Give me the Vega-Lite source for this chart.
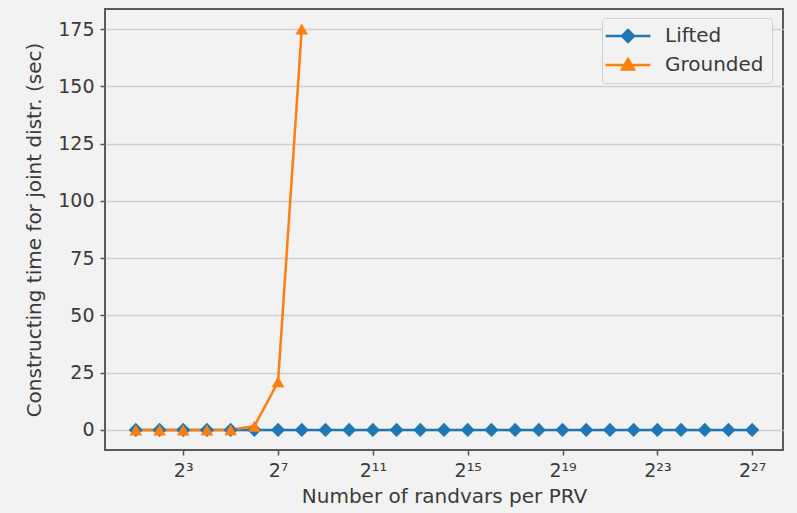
{
  "$schema": "https://vega.github.io/schema/vega-lite/v6.json",
  "width": 678,
  "height": 441,
  "autosize": {"type": "none"},
  "padding": {"left": 105, "top": 9, "right": 14, "bottom": 63},
  "background": "#f2f2f2",
  "config": {
    "view": {"stroke": "#5a5a5a", "strokeWidth": 2, "fill": "#f2f2f2"},
    "font": "DejaVu Sans",
    "axis": {
      "labelFont": "DejaVu Sans",
      "titleFont": "DejaVu Sans",
      "labelColor": "#3a3a3a",
      "titleColor": "#3a3a3a",
      "labelFontSize": 19,
      "titleFontSize": 20,
      "titleFontWeight": "normal",
      "domain": false,
      "tickColor": "#555555",
      "tickSize": 5,
      "tickWidth": 1.5,
      "gridColor": "#cfcfcf",
      "gridWidth": 1.5,
      "gridOpacity": 1
    },
    "legend": {"labelFont": "DejaVu Sans", "labelFontSize": 20, "labelColor": "#3a3a3a"}
  },
  "data": {
    "values": [
      {"n": 2, "time": 0.01, "series": "Lifted"},
      {"n": 4, "time": 0.01, "series": "Lifted"},
      {"n": 8, "time": 0.01, "series": "Lifted"},
      {"n": 16, "time": 0.01, "series": "Lifted"},
      {"n": 32, "time": 0.01, "series": "Lifted"},
      {"n": 64, "time": 0.01, "series": "Lifted"},
      {"n": 128, "time": 0.01, "series": "Lifted"},
      {"n": 256, "time": 0.01, "series": "Lifted"},
      {"n": 512, "time": 0.01, "series": "Lifted"},
      {"n": 1024, "time": 0.01, "series": "Lifted"},
      {"n": 2048, "time": 0.01, "series": "Lifted"},
      {"n": 4096, "time": 0.01, "series": "Lifted"},
      {"n": 8192, "time": 0.01, "series": "Lifted"},
      {"n": 16384, "time": 0.01, "series": "Lifted"},
      {"n": 32768, "time": 0.01, "series": "Lifted"},
      {"n": 65536, "time": 0.01, "series": "Lifted"},
      {"n": 131072, "time": 0.01, "series": "Lifted"},
      {"n": 262144, "time": 0.01, "series": "Lifted"},
      {"n": 524288, "time": 0.01, "series": "Lifted"},
      {"n": 1048576, "time": 0.01, "series": "Lifted"},
      {"n": 2097152, "time": 0.01, "series": "Lifted"},
      {"n": 4194304, "time": 0.01, "series": "Lifted"},
      {"n": 8388608, "time": 0.01, "series": "Lifted"},
      {"n": 16777216, "time": 0.01, "series": "Lifted"},
      {"n": 33554432, "time": 0.01, "series": "Lifted"},
      {"n": 67108864, "time": 0.01, "series": "Lifted"},
      {"n": 134217728, "time": 0.01, "series": "Lifted"},
      {"n": 2, "time": 0.0, "series": "Grounded"},
      {"n": 4, "time": 0.0, "series": "Grounded"},
      {"n": 8, "time": 0.0, "series": "Grounded"},
      {"n": 16, "time": 0.0, "series": "Grounded"},
      {"n": 32, "time": 0.05, "series": "Grounded"},
      {"n": 64, "time": 1.6, "series": "Grounded"},
      {"n": 128, "time": 21, "series": "Grounded"},
      {"n": 256, "time": 175, "series": "Grounded"}
    ]
  },
  "encoding": {
    "x": {
      "field": "n",
      "type": "quantitative",
      "scale": {"type": "log", "base": 2, "domain": [0.8123, 330474000], "nice": false},
      "axis": {
        "title": "Number of randvars per PRV",
        "values": [8, 128, 2048, 32768, 524288, 8388608, 134217728],
        "grid": false,
        "labelPadding": 6,
        "titlePadding": 6,
        "labelExpr": "datum.value < 16 ? '2³' : datum.value < 256 ? '2⁷' : datum.value < 4096 ? '2¹¹' : datum.value < 65536 ? '2¹⁵' : datum.value < 1048576 ? '2¹⁹' : datum.value < 16777216 ? '2²³' : '2²⁷'"
      }
    },
    "y": {
      "field": "time",
      "type": "quantitative",
      "scale": {"domain": [-8.75, 183.75], "nice": false, "zero": false},
      "axis": {
        "title": "Constructing time for joint distr. (sec)",
        "values": [0, 25, 50, 75, 100, 125, 150, 175],
        "labelPadding": 6,
        "titlePadding": 13
      }
    },
    "color": {
      "field": "series",
      "type": "nominal",
      "scale": {"domain": ["Lifted", "Grounded"], "range": ["#1f77b4", "#ff7f0e"]},
      "legend": {
        "title": null,
        "orient": "none",
        "legendX": 497,
        "legendY": 9,
        "padding": 8,
        "fillColor": "#f2f2f2",
        "strokeColor": "#d0d0d0",
        "cornerRadius": 3,
        "symbolSize": 196,
        "symbolStrokeWidth": 2.5,
        "symbolOffset": 8,
        "labelOffset": 27,
        "rowPadding": 5,
        "encode": {
          "symbols": {
            "update": {
              "shape": {"signal": "datum.label === 'Lifted' ? 'M-3.2,0L3.2,0M0,-0.86L0.86,0L0,0.86L-0.86,0Z' : 'M-3.2,0L3.2,0M0,-0.86L0.86,0.64L-0.86,0.64Z'"},
              "stroke": {"signal": "datum.label === 'Lifted' ? '#1f77b4' : '#ff7f0e'"},
              "fill": {"signal": "datum.label === 'Lifted' ? '#1f77b4' : '#ff7f0e'"},
              "strokeWidth": {"value": 2.5},
              "opacity": {"value": 1}
            }
          }
        }
      }
    }
  },
  "layer": [
    {
      "mark": {"type": "line", "strokeWidth": 2.5}
    },
    {
      "transform": [{"filter": "datum.series === 'Lifted'"}],
      "mark": {"type": "point", "filled": true, "opacity": 1, "size": 200, "shape": "diamond"}
    },
    {
      "transform": [{"filter": "datum.series === 'Grounded'"}],
      "mark": {"type": "point", "filled": true, "opacity": 1, "size": 160, "shape": "triangle-up"}
    }
  ]
}
